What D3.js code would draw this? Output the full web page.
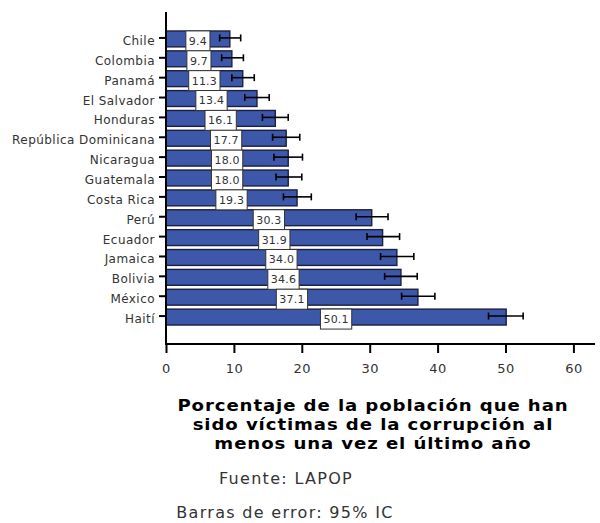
<!DOCTYPE html>
<html>
<head>
<meta charset="utf-8">
<script src="https://cdn.jsdelivr.net/npm/d3@7/dist/d3.min.js"></script>
<style>
  html, body { margin: 0; padding: 0; background: #fff; }
  svg { display: block; }
</style>
</head>
<body>
<svg id="chart" width="600" height="523"></svg>
<script>
const countries = ["Chile", "Colombia", "Panamá", "El Salvador", "Honduras", "República Dominicana", "Nicaragua", "Guatemala", "Costa Rica", "Perú", "Ecuador", "Jamaica", "Bolivia", "México", "Haití"];
const values = [9.4, 9.7, 11.3, 13.4, 16.1, 17.7, 18.0, 18.0, 19.3, 30.3, 31.9, 34.0, 34.6, 37.1, 50.1];
const ciLow  = [7.9, 8.2, 9.7, 11.6, 14.2, 15.7, 15.9, 16.2, 17.3, 28.0, 29.6, 31.6, 32.2, 34.7, 47.5];
const ciHigh = [11.0, 11.4, 13.0, 15.2, 18.0, 19.7, 20.1, 20.0, 21.4, 32.7, 34.4, 36.5, 37.0, 39.6, 52.6];
const xTicks = [0, 10, 20, 30, 40, 50, 60];
const titleLines = ["Porcentaje de la población que han", "sido víctimas de la corrupción al", "menos una vez el último año"];
const sourceText = "Fuente: LAPOP";
const errorText = "Barras de error: 95% IC";

const svg = d3.select("#chart");
const FONT = "'DejaVu Sans', sans-serif";

const x = d3.scaleLinear().domain([0, 60]).range([166, 573.4]);
const y = d3.scaleBand().domain(countries).range([28, 328]).paddingInner(0.2).paddingOuter(0.15);

const data = countries.map((c, i) => ({ c, v: values[i], lo: ciLow[i], hi: ciHigh[i] }));

// bars
svg.append("g").selectAll("rect").data(data).join("rect")
  .attr("x", x(0))
  .attr("y", d => y(d.c))
  .attr("width", d => x(d.v) - x(0))
  .attr("height", y.bandwidth())
  .attr("fill", "#3d57a9")
  .attr("stroke", "#1c2040")
  .attr("stroke-width", 1.4);

// value label boxes
const lab = svg.append("g").selectAll("g").data(data).join("g")
  .attr("transform", d => `translate(${x(d.v / 2)},${y(d.c) + y.bandwidth() / 2 + 2})`);
lab.append("text")
  .attr("text-anchor", "middle")
  .attr("dy", "0.36em")
  .attr("font-family", FONT)
  .attr("font-size", 11)
  .attr("letter-spacing", 0.2)
  .attr("fill", "#333")
  .text(d => d.v.toFixed(1))
  .each(function () {
    const bb = this.getBBox();
    const w = bb.width + 6;
    d3.select(this.parentNode).insert("rect", "text")
      .attr("x", -w / 2)
      .attr("y", -10)
      .attr("width", w)
      .attr("height", 20)
      .attr("fill", "#fff")
      .attr("stroke", "#333")
      .attr("stroke-width", 1);
  });

// error bars
const eb = svg.append("g").selectAll("g").data(data).join("g")
  .attr("transform", d => `translate(0,${y(d.c) + y.bandwidth() / 2 - 1})`)
  .attr("stroke", "#000")
  .attr("stroke-width", 1.6);
eb.append("line").attr("x1", d => x(d.lo)).attr("x2", d => x(d.hi)).attr("y1", 0).attr("y2", 0);
eb.append("line").attr("x1", d => x(d.lo)).attr("x2", d => x(d.lo)).attr("y1", -3.5).attr("y2", 3.5);
eb.append("line").attr("x1", d => x(d.hi)).attr("x2", d => x(d.hi)).attr("y1", -3.5).attr("y2", 3.5);

// y axis
const yAxis = svg.append("g")
  .attr("transform", `translate(${x(0)},0)`)
  .call(d3.axisLeft(y).tickSize(7).tickPadding(4).tickSizeOuter(0));
yAxis.select(".domain").remove();
yAxis.selectAll(".tick line").attr("stroke", "#000").attr("stroke-width", 2).attr("transform", "translate(0,-1)");
yAxis.selectAll(".tick text")
  .attr("font-family", FONT)
  .attr("font-size", 12)
  .attr("letter-spacing", 0.45)
  .attr("fill", "#333")
  .attr("dy", "0.5em");
svg.append("line")
  .attr("x1", x(0)).attr("x2", x(0)).attr("y1", 12).attr("y2", 344)
  .attr("stroke", "#000").attr("stroke-width", 2);

// x axis
const xAxis = svg.append("g")
  .attr("transform", "translate(0,344)")
  .call(d3.axisBottom(x).tickValues(xTicks).tickSize(9).tickPadding(11).tickSizeOuter(0));
xAxis.select(".domain").remove();
svg.append("line")
  .attr("x1", x(0) - 1).attr("x2", 595).attr("y1", 344).attr("y2", 344)
  .attr("stroke", "#000").attr("stroke-width", 2);
xAxis.selectAll(".tick line").attr("stroke", "#000").attr("stroke-width", 2);
xAxis.selectAll(".tick text")
  .attr("font-family", FONT)
  .attr("font-size", 13)
  .attr("letter-spacing", 0.5)
  .attr("fill", "#333");

// title
svg.append("g").selectAll("text").data(titleLines).join("text")
  .attr("transform", (d, i) => `translate(373,${411 + i * 19}) scale(1.12,1)`)
  .attr("text-anchor", "middle")
  .attr("font-family", FONT)
  .attr("font-weight", "bold")
  .attr("font-size", 16.2)
  .attr("letter-spacing", 0.8)
  .attr("fill", "#000")
  .text(d => d);

svg.append("text")
  .attr("x", 286).attr("y", 484)
  .attr("text-anchor", "middle")
  .attr("font-family", FONT)
  .attr("font-size", 16)
  .attr("letter-spacing", 1.3)
  .attr("fill", "#333")
  .text(sourceText);

svg.append("text")
  .attr("x", 285).attr("y", 518)
  .attr("text-anchor", "middle")
  .attr("font-family", FONT)
  .attr("font-size", 16)
  .attr("letter-spacing", 1.3)
  .attr("fill", "#333")
  .text(errorText);
</script>
</body>
</html>
